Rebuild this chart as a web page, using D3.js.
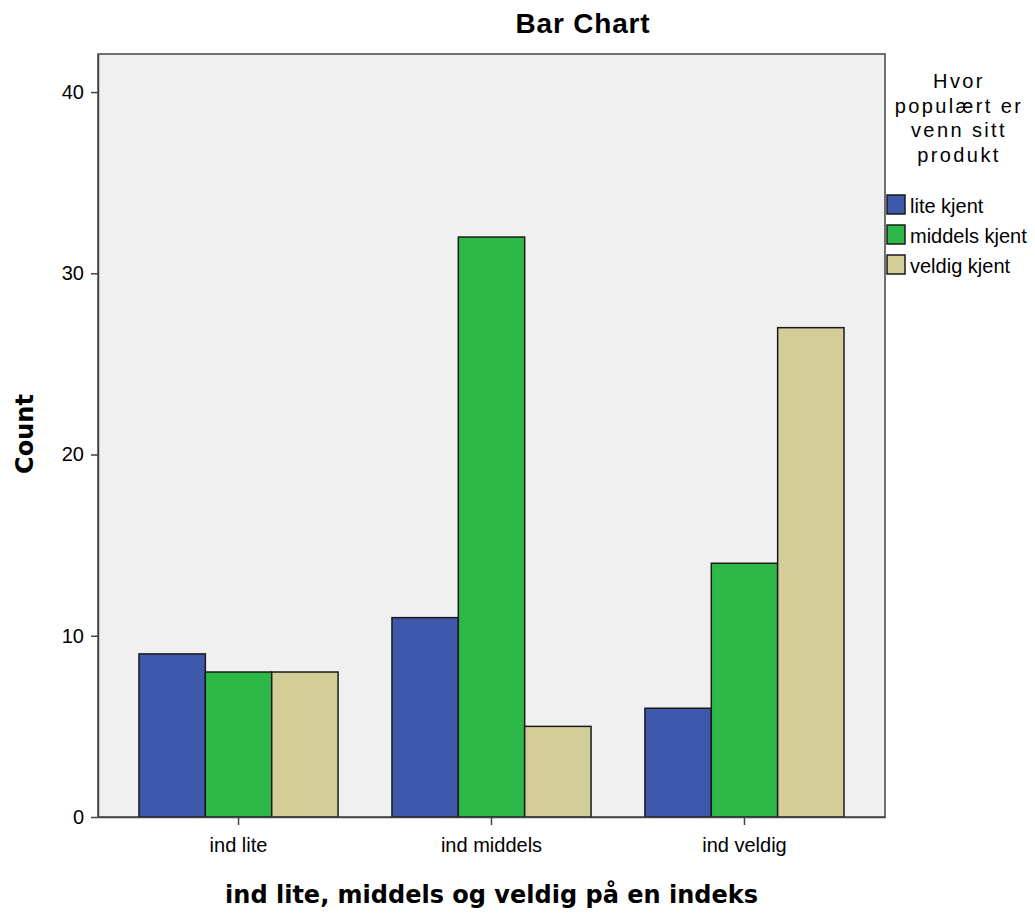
<!DOCTYPE html>
<html>
<head>
<meta charset="utf-8">
<script src="https://cdn.jsdelivr.net/npm/d3@7"></script>
<style>
  body { margin: 0; background: #fff; }
  text { font-family: "Liberation Sans", Arial, sans-serif; fill: #000; }
  .bold-label { font-family: "DejaVu Sans", sans-serif; font-weight: bold; }
</style>
</head>
<body>
<svg id="chart"></svg>
<script>
const categories = ["ind lite", "ind middels", "ind veldig"];
const seriesNames = ["lite kjent", "middels kjent", "veldig kjent"];
const liteKjent = [9, 11, 6];
const middelsKjent = [8, 32, 14];
const veldigKjent = [8, 5, 27];
const yTicks = [0, 10, 20, 30, 40];
const colors = ["#3e58ac", "#2eb848", "#d3ce97"];

const width = 1035;
const height = 913;
const margin = { top: 54, right: 150, bottom: 96, left: 98 };

const svg = d3.select("#chart")
  .attr("width", width)
  .attr("height", height);

const rows = categories.map((c, i) => ({
  cat: c,
  "lite kjent": liteKjent[i],
  "middels kjent": middelsKjent[i],
  "veldig kjent": veldigKjent[i]
}));

const x0 = d3.scaleBand()
  .domain(categories)
  .range([margin.left, width - margin.right])
  .paddingInner(0.213)
  .paddingOuter(0.162);

const x1 = d3.scaleBand()
  .domain(seriesNames)
  .range([0, x0.bandwidth()]);

const y = d3.scaleLinear()
  .domain([0, 42.1])
  .range([height - margin.bottom, margin.top]);

const color = d3.scaleOrdinal().domain(seriesNames).range(colors);

// plot background + frame
svg.append("rect")
  .attr("x", margin.left)
  .attr("y", margin.top)
  .attr("width", width - margin.right - margin.left)
  .attr("height", height - margin.bottom - margin.top)
  .attr("fill", "#f0f0f0")
  .attr("stroke", "#444")
  .attr("stroke-width", 1.5);

// bars
svg.selectAll("g.group")
  .data(rows)
  .enter()
  .append("g")
  .attr("transform", d => `translate(${x0(d.cat)},0)`)
  .selectAll("rect")
  .data(d => seriesNames.map(k => ({ key: k, value: d[k] })))
  .enter()
  .append("rect")
  .attr("x", d => x1(d.key))
  .attr("y", d => y(d.value))
  .attr("width", x1.bandwidth())
  .attr("height", d => y(0) - y(d.value))
  .attr("fill", d => color(d.key))
  .attr("stroke", "#1a1a1a")
  .attr("stroke-width", 1.5);

// axes
const yAxis = svg.append("g")
  .attr("transform", `translate(${margin.left},0)`)
  .call(d3.axisLeft(y).tickValues(yTicks).tickSize(7).tickSizeOuter(0).tickPadding(7));
yAxis.selectAll("text").style("font-size", "20px");

const xAxis = svg.append("g")
  .attr("transform", `translate(0,${height - margin.bottom})`)
  .call(d3.axisBottom(x0).tickSize(8).tickSizeOuter(0).tickPadding(13));
xAxis.selectAll("text").style("font-size", "20px");

[yAxis, xAxis].forEach(a => {
  a.select(".domain").attr("stroke", "#444").attr("stroke-width", 1.5);
  a.selectAll(".tick line").attr("stroke", "#444").attr("stroke-width", 1.5);
});

// titles
svg.append("text")
  .attr("x", 583)
  .attr("y", 33)
  .attr("text-anchor", "middle")
  .style("font-size", "28px")
  .style("font-weight", "bold")
  .style("letter-spacing", "0.8px")
  .text("Bar Chart");

svg.append("text")
  .attr("class", "bold-label")
  .attr("x", (margin.left + width - margin.right) / 2)
  .attr("y", 903)
  .attr("text-anchor", "middle")
  .style("font-size", "24px")
  .text("ind lite, middels og veldig på en indeks");

svg.append("text")
  .attr("class", "bold-label")
  .attr("transform", "rotate(-90)")
  .attr("x", -434)
  .attr("y", 33)
  .attr("text-anchor", "middle")
  .style("font-size", "24px")
  .text("Count");

// legend
const legendTitle = ["Hvor", "populært er", "venn sitt", "produkt"];
svg.append("g")
  .selectAll("text")
  .data(legendTitle)
  .enter()
  .append("text")
  .attr("x", 959)
  .attr("y", (d, i) => 88 + i * 24.5)
  .attr("text-anchor", "middle")
  .style("font-size", "20px")
  .style("letter-spacing", "2.4px")
  .text(d => d);

const legend = svg.append("g")
  .selectAll("g")
  .data(seriesNames)
  .enter()
  .append("g")
  .attr("transform", (d, i) => `translate(887,${195 + i * 30})`);

legend.append("rect")
  .attr("width", 18)
  .attr("height", 19)
  .attr("fill", d => color(d))
  .attr("stroke", "#1a1a1a")
  .attr("stroke-width", 1.5);

legend.append("text")
  .attr("x", 23)
  .attr("y", 18)
  .style("font-size", "20px")
  .text(d => d);
</script>
</body>
</html>
